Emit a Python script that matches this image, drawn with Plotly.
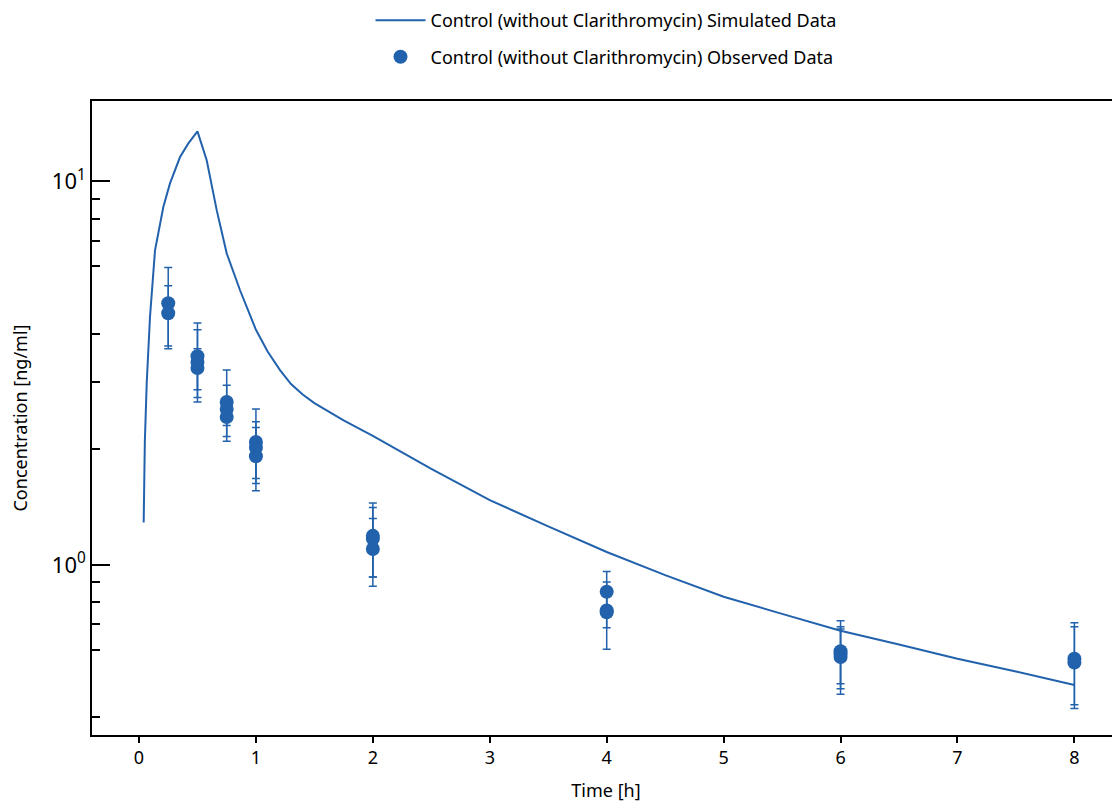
import math
import plotly.graph_objects as go

# Simulated concentration-time profile
sim_time = [0.04, 0.05, 0.066, 0.094, 0.137, 0.208, 0.265, 0.351, 0.422, 0.5,
            0.579, 0.665, 0.75, 0.864, 1.0, 1.1, 1.206, 1.3, 1.4, 1.5, 1.75,
            2.0, 2.5, 3.0, 3.5, 4.0, 4.5, 5.0, 5.5, 6.0, 6.5, 7.0, 7.5, 8.0]
sim_conc = [1.29, 2.1, 2.98, 4.43, 6.61, 8.57, 9.88, 11.57, 12.56, 13.5,
            11.35, 8.40, 6.49, 5.2, 4.1, 3.6, 3.22, 2.96, 2.78, 2.64, 2.38,
            2.17, 1.78, 1.475, 1.26, 1.08, 0.94, 0.826, 0.745, 0.673, 0.62,
            0.569, 0.527, 0.486]

# Observed data (mean +/- SD)
obs_time = [0.25, 0.25, 0.5, 0.5, 0.5, 0.75, 0.75, 0.75, 1, 1, 1,
            2, 2, 2, 4, 4, 4, 6, 6, 6, 8, 8]
obs_conc = [4.81, 4.53, 3.50, 3.38, 3.26, 2.66, 2.55, 2.43, 2.09, 2.02, 1.92,
            1.19, 1.17, 1.10, 0.851, 0.76, 0.752, 0.595, 0.585, 0.575, 0.569, 0.556]
obs_sd = [1.15, 0.81, 0.77, 0.72, 0.40, 0.56, 0.39, 0.12, 0.46, 0.34, 0.36,
          0.26, 0.24, 0.22, 0.11, 0.075, 0.15, 0.12, 0.095, 0.115, 0.137, 0.134]

x_ticks = [0, 1, 2, 3, 4, 5, 6, 7, 8]
y_major = [1, 10]
y_major_text = ["10<sup>0</sup>", "10<sup>1</sup>"]
y_medium = [0.5, 5]
y_minor = [0.4, 0.6, 0.7, 0.8, 0.9, 2, 3, 4, 6, 7, 8, 9]

BLUE = "#2262AC"
FONT = "Noto Sans"

fig = go.Figure()
fig.add_trace(go.Scatter(
    x=sim_time, y=sim_conc, mode="lines",
    name="Control (without Clarithromycin) Simulated Data",
    line=dict(color=BLUE, width=2), legendgroup="a"))
fig.add_trace(go.Scatter(
    x=obs_time, y=obs_conc, mode="markers",
    name="Control (without Clarithromycin) Observed Data",
    marker=dict(color=BLUE, size=14),
    error_y=dict(type="data", array=obs_sd, visible=True, color=BLUE,
                 thickness=1.5, width=4),
    legendgroup="b"))

yr = [math.log10(0.36), math.log10(16.2)]

fig.update_layout(
    width=1112, height=794,
    margin=dict(l=84, r=0, t=93, b=67, autoexpand=False),
    paper_bgcolor="white", plot_bgcolor="white",
    font=dict(family=FONT, size=18, color="black"),
    showlegend=True,
    legend=dict(x=0.5, xanchor="center", y=1.156, yref="paper", yanchor="top",
                orientation="v", font=dict(size=18), tracegroupgap=10,
                itemwidth=50, bgcolor="rgba(0,0,0,0)"),
    xaxis=dict(range=[-0.402, 8.39], tickvals=x_ticks, ticks="outside",
               ticklen=6, tickwidth=1.5, tickcolor="black",
               showline=True, linecolor="black", linewidth=1.5, mirror=True,
               showgrid=False, zeroline=False,
               tickfont=dict(size=18),
               title=dict(text="Time [h]", font=dict(size=18), standoff=19)),
    yaxis=dict(type="log", range=yr, tickmode="array", tickvals=y_major,
               ticktext=y_major_text, ticks="inside", ticklen=18,
               tickwidth=1.5, tickcolor="black",
               minor=dict(tickvals=y_minor, ticks="inside", ticklen=8,
                          tickwidth=1.5, tickcolor="black"),
               showline=True, linecolor="black", linewidth=1.5,
               showgrid=False, zeroline=False, tickfont=dict(size=22),
               title=dict(text="Concentration [ng/ml]", font=dict(size=18),
                          standoff=20)),
    yaxis2=dict(type="log", range=yr, overlaying="y", side="left",
                tickmode="array", tickvals=y_medium, ticks="inside",
                ticklen=13, tickwidth=1.5, tickcolor="black",
                showticklabels=False, showline=False, showgrid=False,
                zeroline=False),
)

fig.write_html("out.html")
